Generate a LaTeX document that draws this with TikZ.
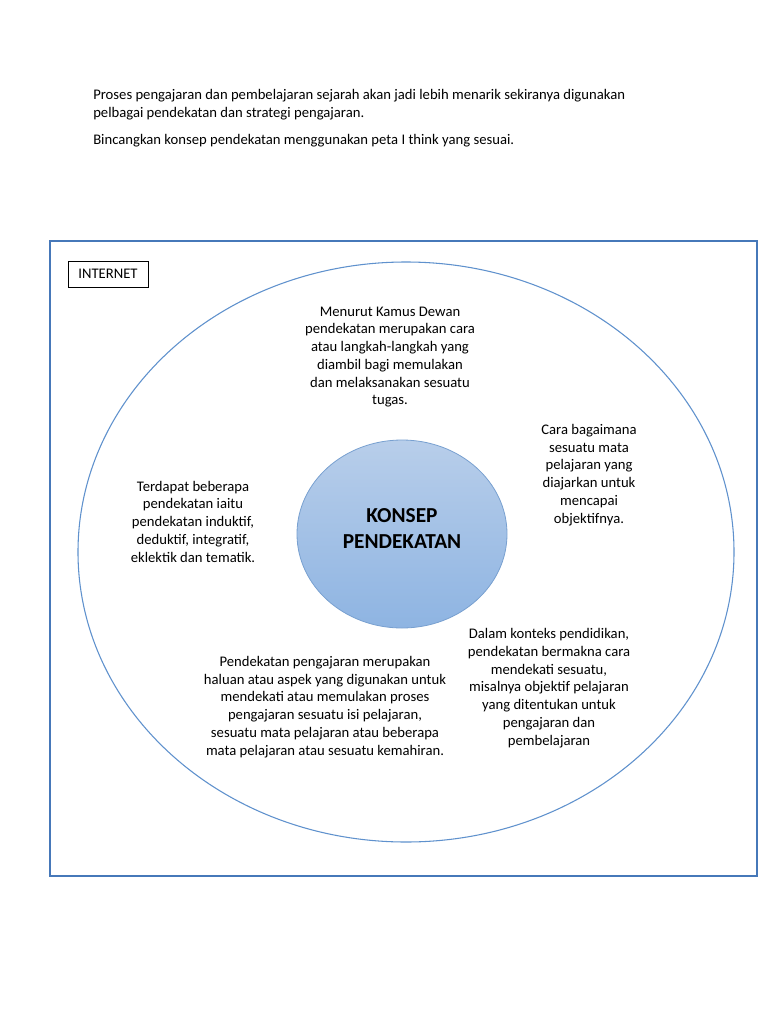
\documentclass[tikz,border=0pt]{standalone}
\usepackage{fontspec}
\setmainfont{Carlito}
\usetikzlibrary{shapes.geometric}
\definecolor{frameblue}{RGB}{70,120,185}
\definecolor{ringblue}{RGB}{95,145,205}
\definecolor{circtop}{RGB}{184,206,234}
\definecolor{circbot}{RGB}{142,180,226}
\definecolor{circedge}{RGB}{120,160,208}
\tikzset{
  body/.style={align=center, inner sep=0pt, font=\fontsize{11}{13.3}\selectfont},
  head/.style={align=left, inner sep=0pt, font=\fontsize{11}{13.3}\selectfont},
}
\begin{document}
\begin{tikzpicture}[x=0.75pt,y=-0.75pt]
\useasboundingbox (0,0) rectangle (768,1024);
\fill[white] (0,0) rectangle (768,1024);
% heading
\node[head, anchor=west] (h1) at (93,104.5) {Proses pengajaran dan pembelajaran sejarah akan jadi lebih menarik sekiranya digunakan\\pelbagai pendekatan dan strategi pengajaran.};
\node[head, anchor=west] (h2) at (93,141) {Bincangkan konsep pendekatan menggunakan peta I think yang sesuai.};
% frame
\draw[frameblue, line width=1.2pt] (50,241) rectangle (757,876);
% internet box
\node[draw=black, line width=0.7pt, minimum width=80*0.75pt, minimum height=26*0.75pt, inner sep=0pt, font=\fontsize{11}{13.3}\selectfont] (inet) at (108,274) {INTERNET};
% outer ellipse
\draw[ringblue, line width=0.8pt] (406,552) ellipse [x radius=328, y radius=290];
% inner circle
\node[ellipse, draw=circedge, line width=0.6pt, top color=circtop, bottom color=circbot, minimum width=210*0.75pt, minimum height=188*0.75pt, inner sep=0pt] (core) at (402,534) {};
\node[align=center, inner sep=0pt, font=\fontsize{16}{19.5}\selectfont\bfseries] (coretext) at (402,528.5) {KONSEP\\PENDEKATAN};
% texts
\node[body] (top) at (390,357) {Menurut Kamus Dewan\\pendekatan merupakan cara\\atau langkah-langkah yang\\diambil bagi memulakan\\dan melaksanakan sesuatu\\tugas.};
\node[body] (right) at (589,475) {Cara bagaimana\\sesuatu mata\\pelajaran yang\\diajarkan untuk\\mencapai\\objektifnya.};
\node[body] (left) at (193,521.5) {Terdapat beberapa\\pendekatan iaitu\\pendekatan induktif,\\deduktif, integratif,\\eklektik dan tematik.};
\node[body] (botleft) at (325,707) {Pendekatan pengajaran merupakan\\haluan atau aspek yang digunakan untuk\\mendekati atau memulakan proses\\pengajaran sesuatu isi pelajaran,\\sesuatu mata pelajaran atau beberapa\\mata pelajaran atau sesuatu kemahiran.};
\node[body] (botright) at (549,688) {Dalam konteks pendidikan,\\pendekatan bermakna cara\\mendekati sesuatu,\\misalnya objektif pelajaran\\yang ditentukan untuk\\pengajaran dan\\pembelajaran};
\end{tikzpicture}
\end{document}
